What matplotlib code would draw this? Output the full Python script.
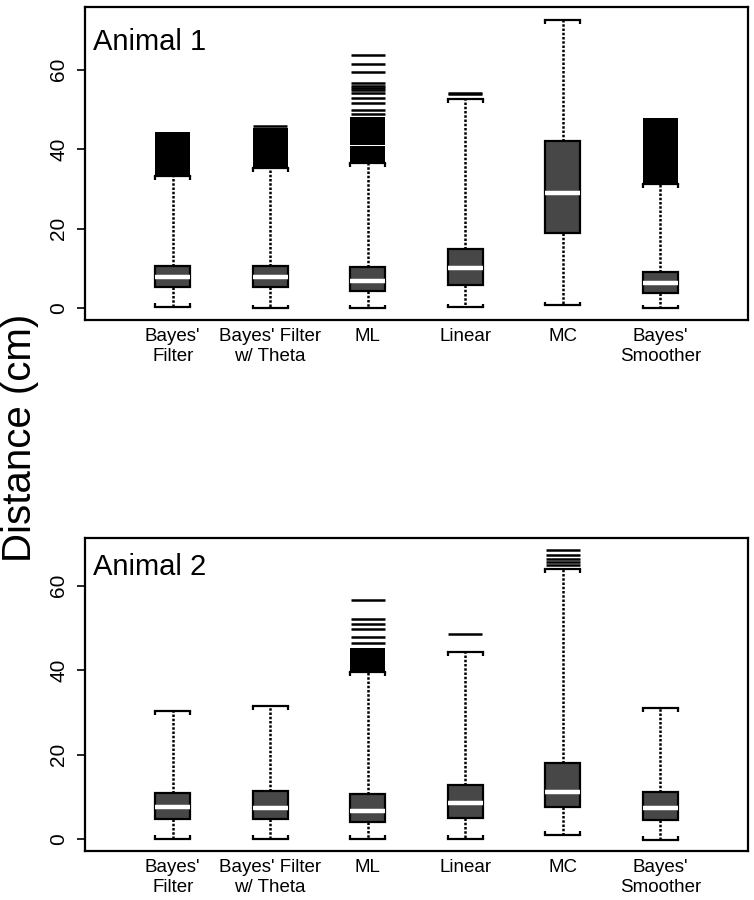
import matplotlib.pyplot as plt
import numpy as np

plt.rcParams['font.family'] = ['Liberation Sans', 'DejaVu Sans']

methods = ["Bayes'\nFilter", "Bayes' Filter\nw/ Theta", "ML", "Linear", "MC", "Bayes'\nSmoother"]

# Animal 1 box statistics (cm)
a1_whislo = [0.3, 0.0, 0.0, 0.2, 0.7, 0.0]
a1_q1 = [5.3, 5.2, 4.3, 5.8, 19.0, 3.9]
a1_med = [7.8, 7.8, 6.8, 10.0, 29.1, 6.2]
a1_q3 = [10.6, 10.6, 10.4, 14.8, 42.1, 9.0]
a1_whishi = [33.2, 35.2, 36.5, 52.6, 72.5, 31.2]
a1_fliers = [[], [45.8],
             [48.9, 50.0, 51.7, 52.8, 54.2, 54.8, 55.4, 55.9, 56.6, 59.5, 61.5, 63.6],
             [53.8, 54.2], [], []]
# ranges so dense with outliers that they print as solid black
a1_bands = [[(33.2, 44.3)], [(35.2, 45.3)], [(36.5, 40.7), (41.0, 48.2)], [], [], [(31.2, 47.8)]]

# Animal 2 box statistics (cm)
a2_whislo = [0.1, 0.1, 0.1, 0.1, 1.0, -0.2]
a2_q1 = [4.7, 4.7, 4.0, 5.0, 7.6, 4.5]
a2_med = [7.6, 7.5, 6.6, 8.5, 11.1, 7.3]
a2_q3 = [10.9, 11.4, 10.6, 12.8, 18.0, 11.1]
a2_whishi = [30.3, 31.5, 39.6, 44.3, 63.9, 31.1]
a2_fliers = [[], [], [46.4, 47.9, 49.7, 50.9, 52.1, 56.6], [48.6],
             [64.9, 65.6, 66.4, 67.2, 68.4], []]
a2_bands = [[], [], [(39.6, 45.3)], [], [], []]

panels = [
    ("Animal 1", a1_whislo, a1_q1, a1_med, a1_q3, a1_whishi, a1_fliers, a1_bands, (-3.0, 75.8), 0.863),
    ("Animal 2", a2_whislo, a2_q1, a2_med, a2_q3, a2_whishi, a2_fliers, a2_bands, (-2.8, 71.3), 0.882),
]

fig = plt.figure(figsize=(7.54, 9.0), dpi=100)
axes_rects = [[0.1127, 0.6444, 0.8795, 0.3478], [0.1127, 0.0544, 0.8795, 0.3478]]

pos = np.arange(1, len(methods) + 1)
bw = 0.36

for rect, (name, wlo, q1, med, q3, whi, fl, bands, ylim, ty) in zip(axes_rects, panels):
    ax = fig.add_axes(rect)
    stats = []
    for i in range(len(methods)):
        stats.append(dict(whislo=wlo[i], q1=q1[i], med=med[i], q3=q3[i],
                          whishi=whi[i], fliers=fl[i], label=methods[i]))
    ax.bxp(stats, positions=pos, widths=bw, patch_artist=True, showfliers=True,
           boxprops=dict(facecolor='#474747', edgecolor='black', linewidth=1.6),
           medianprops=dict(color='white', linewidth=3.2),
           whiskerprops=dict(color='black', linewidth=1.8, linestyle=(0, (1.0, 0.7))),
           capprops=dict(color='black', linewidth=1.6),
           capwidths=bw,
           flierprops=dict(marker='_', markersize=25, markeredgewidth=1.8,
                           markeredgecolor='black'))
    # little bracket ends on the caps
    for i, p in enumerate(pos):
        for x in (p - bw / 2, p + bw / 2):
            ax.vlines(x, wlo[i], wlo[i] + 0.9, color='black', linewidth=1.6)
            ax.vlines(x, whi[i] - 0.9, whi[i], color='black', linewidth=1.6)
        for lo, hi in bands[i]:
            ax.bar(p, hi - lo, bottom=lo, width=bw, color='black', linewidth=0)

    ax.set_xlim(0.1, 6.9)
    ax.set_ylim(*ylim)
    ax.set_yticks([0, 20, 40, 60])
    ax.set_yticklabels(['0', '20', '40', '60'], rotation=90, va='center', fontsize=15)
    ax.tick_params(axis='y', length=6, width=1.2, pad=6)
    ax.tick_params(axis='x', length=0, pad=6, labelsize=13.5)
    for s in ax.spines.values():
        s.set_linewidth(1.6)
    ax.text(0.0125, ty, name, transform=ax.transAxes, fontsize=21, va='baseline', ha='left')

fig.text(0.027, 0.514, 'Distance (cm)', rotation=90, fontsize=29, ha='center', va='center')

fig.savefig('out.png', dpi=100)
